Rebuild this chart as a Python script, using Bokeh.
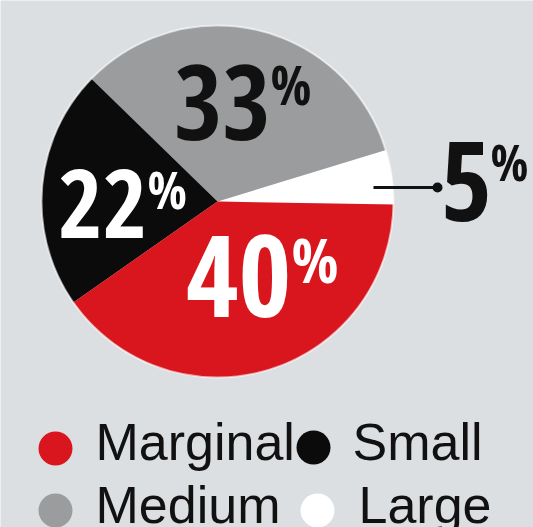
import math
from bokeh.plotting import figure
from bokeh.models import Range1d, ColumnDataSource
from bokeh.core.properties import value
from bokeh.embed import file_html
from bokeh.resources import INLINE

# ---- data ----
categories = ["Large", "Medium", "Small", "Marginal"]
shares = [5, 33, 22, 40]
slice_colors = ["#ffffff", "#9a9c9e", "#0b0b0b", "#d9161d"]
label_colors = ["#111111", "#111111", "#ffffff", "#ffffff"]
legend_order = ["Marginal", "Small", "Medium", "Large"]

# ---- layout (reference pixel coordinates, y measured from the top) ----
W, H = 533, 527
def Y(py):
    return H - py

BASE_SHIFT = 0.36  # rendered glyph baseline sits this many em below the anchor

def base(py, size):
    return Y(py - BASE_SHIFT * size)

cx, cy, R = 217, Y(201), 176
start_deg = -1.0
# digits: centre x, glyph baseline y, font px ; percent: left x, glyph baseline y, font px
label_layout = {
    "Large":    (466, 221, 110, 490, 179, 50),
    "Medium":   (222, 139, 104, 270, 103, 54),
    "Small":    (102, 238, 96, 147, 207, 52),
    "Marginal": (238, 317, 114, 291, 281, 62),
}
# marker x, marker y, text left x, text baseline y
legend_layout = {
    "Marginal": (55, 448, 95, 460),
    "Small":    (313, 447, 352, 460),
    "Medium":   (55, 510, 95, 523),
    "Large":    (317, 510, 358, 523),
}
LEG_FS = 52

p = figure(width=W, height=H, x_range=Range1d(0, W), y_range=Range1d(0, H),
           output_backend="svg", toolbar_location=None, min_border=0)
p.axis.visible = False
p.grid.visible = False
p.outline_line_color = None
p.background_fill_color = "#dcdfe2"
p.border_fill_color = "#dcdfe2"

# pie slices
total = sum(shares)
starts, ends = [], []
a = math.radians(start_deg)
for s in shares:
    starts.append(a)
    a += 2 * math.pi * s / total
    ends.append(a)
src = ColumnDataSource(dict(cat=categories, start=starts, end=ends, color=slice_colors))
p.wedge(x=cx, y=cy, radius=R, start_angle="start", end_angle="end",
        fill_color="color", line_color=None, source=src)
p.circle(x=cx, y=cy, radius=R, fill_color=None, line_color="#ffffff",
         line_alpha=0.6, line_width=2)

# leader line for the small "Large" slice
p.line(x=[373, 437], y=[Y(187), Y(187)], line_color="#111111", line_width=3)
p.scatter(x=[437], y=[Y(187)], size=10, marker="circle", fill_color="#111111", line_color=None)

# percentage labels
num_font = value("Open Sans Condensed")
for cat, s, col in zip(categories, shares, label_colors):
    dx, dby, dfs, px, pby, pfs = label_layout[cat]
    p.text(x=[dx], y=[base(dby, dfs)], text=[str(s)], text_font=num_font,
           text_font_style="bold", text_font_size=f"{dfs}px", text_color=col,
           text_align="center", text_baseline="alphabetic")
    p.text(x=[px], y=[base(pby, pfs)], text=["%"], text_font=num_font,
           text_font_style="bold", text_font_size=f"{pfs}px", text_color=col,
           text_align="left", text_baseline="alphabetic")

# legend
color_of = dict(zip(categories, slice_colors))
for cat in legend_order:
    mx, my, tx, ty = legend_layout[cat]
    p.circle(x=[mx], y=[Y(my)], radius=17, fill_color=color_of[cat], line_color=None)
    p.text(x=[tx], y=[base(ty, LEG_FS)], text=[cat], text_font=value("Liberation Sans"),
           text_font_size=f"{LEG_FS}px", text_color="#111111", text_align="left",
           text_baseline="alphabetic")

open("out.html", "w").write(file_html(p, INLINE))
